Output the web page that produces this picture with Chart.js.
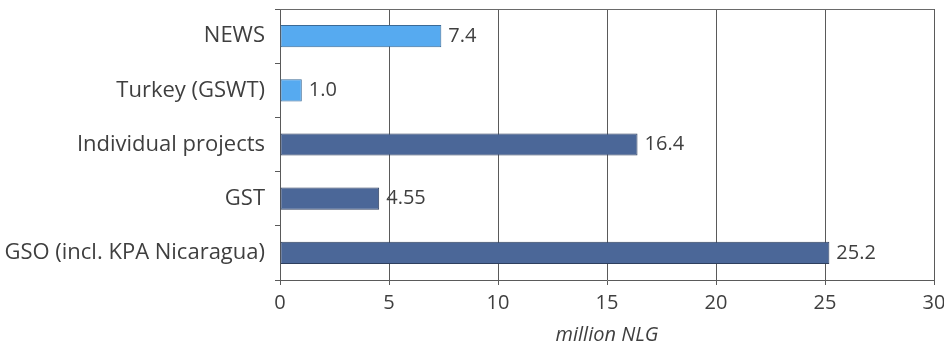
<!DOCTYPE html>
<html>
<head>
<meta charset="utf-8">
<script src="https://cdn.jsdelivr.net/npm/chart.js@4/dist/chart.umd.min.js"></script>
<style>
  html, body { margin: 0; padding: 0; background: #fff; }
  #wrap { width: 944px; height: 347px; position: relative; }
</style>
</head>
<body>
<div id="wrap"><canvas id="c"></canvas></div>
<script>
// Funding by programme, million NLG
const categories = ['NEWS', 'Turkey (GSWT)', 'Individual projects', 'GST', 'GSO (incl. KPA Nicaragua)'];
const amounts = [7.4, 1.0, 16.4, 4.55, 25.2];
const xTicks = [0, 5, 10, 15, 20, 25, 30];
const axisTitle = 'million NLG';

const lightBlue = '#56aaf0';
const darkBlue = '#4b6798';
const barFill = [lightBlue, lightBlue, darkBlue, darkBlue, darkBlue];
const barEdge = ['#3b6a96', '#3b6a96', '#2e3f5e', '#2e3f5e', '#2e3f5e'];

const FONT = '"Open Sans", Lato, sans-serif';
const TEXT = '#3f3f3f';

function fmt(v) {
  return Number.isInteger(v) ? v.toFixed(1) : String(v);
}

// value labels at the end of each bar, plus the top frame line
const decorations = {
  id: 'decorations',
  afterDatasetsDraw(chart) {
    const { ctx, chartArea } = chart;
    ctx.save();
    ctx.strokeStyle = '#6a6a6a';
    ctx.lineWidth = 1;
    ctx.beginPath();
    ctx.moveTo(chartArea.left, chartArea.top + 0.5);
    ctx.lineTo(chartArea.right, chartArea.top + 0.5);
    ctx.stroke();

    const meta = chart.getDatasetMeta(0);
    ctx.fillStyle = TEXT;
    ctx.font = '20px ' + FONT;
    ctx.textBaseline = 'middle';
    ctx.textAlign = 'left';
    meta.data.forEach((bar, i) => {
      ctx.fillText(fmt(amounts[i]), bar.x + 7, bar.y);
    });
    ctx.restore();
  }
};

new Chart(document.getElementById('c'), {
  type: 'bar',
  data: {
    labels: categories,
    datasets: [{
      data: amounts,
      backgroundColor: barFill,
      borderColor: barEdge,
      borderWidth: 1,
      borderSkipped: false,
      barPercentage: 0.41,
      categoryPercentage: 1.0
    }]
  },
  options: {
    indexAxis: 'y',
    responsive: true,
    maintainAspectRatio: false,
    animation: false,
    layout: { padding: { top: 9, right: 0, left: 0, bottom: 0 } },
    plugins: {
      legend: { display: false },
      tooltip: { enabled: false }
    },
    scales: {
      x: {
        min: 0,
        max: 30,
        afterBuildTicks(axis) { axis.ticks = xTicks.map(v => ({ value: v })); },
        afterFit(axis) {
          axis.height = 67;
          axis.paddingLeft = 0;
          axis.paddingRight = 10;
        },
        grid: {
          color: '#5a5a5a',
          lineWidth: 1,
          drawTicks: true,
          tickLength: 5
        },
        border: { display: true, color: '#5a5a5a' },
        ticks: {
          color: TEXT,
          font: { family: FONT, size: 20 },
          padding: 6
        },
        title: {
          display: true,
          text: axisTitle,
          color: TEXT,
          font: { family: FONT, size: 20, style: 'italic' },
          padding: { top: 6, bottom: 0 }
        }
      },
      y: {
        afterFit(axis) {
          axis.width = 280;
          axis.paddingTop = 0;
          axis.paddingBottom = 0;
        },
        grid: {
          drawOnChartArea: false,
          drawTicks: true,
          tickLength: 5,
          color: '#5a5a5a'
        },
        border: { display: true, color: '#5a5a5a' },
        ticks: {
          color: TEXT,
          font: { family: FONT, size: 22 },
          padding: 10
        }
      }
    }
  },
  plugins: [decorations]
});
</script>
</body>
</html>
